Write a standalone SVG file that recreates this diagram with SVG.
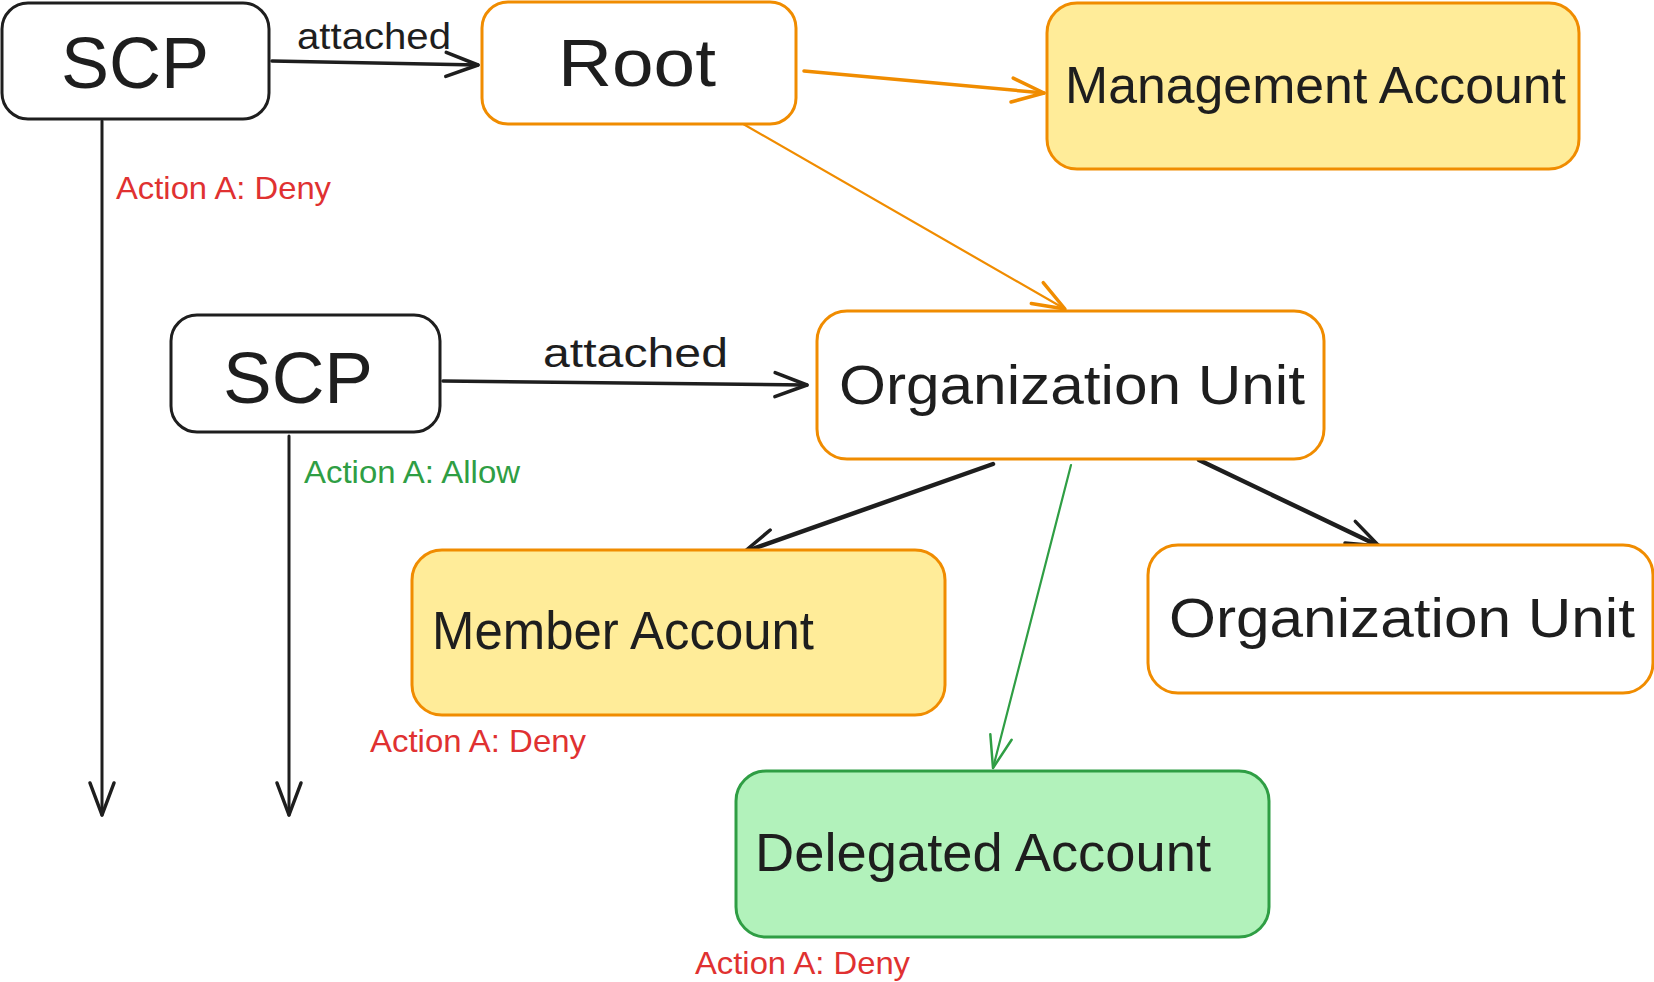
<svg xmlns="http://www.w3.org/2000/svg" width="1654" height="982" viewBox="0 0 1654 982">
<style>
.box{stroke-width:3;stroke-linejoin:round}
.w{fill:#ffffff}
.y{fill:#ffec99}
.g{fill:#b2f2bb}
.bk{stroke:#1e1e1e}
.or{stroke:#f08c00}
.gr{stroke:#2f9e44}
.t{font-family:"Liberation Sans",Arial,sans-serif;fill:#1e1e1e}
.lbl{font-family:"Liberation Sans",Arial,sans-serif;font-size:32px}
.red{fill:#e03131}
.grn{fill:#2f9e44}
.c{fill:none;stroke-linecap:round}
</style>
<defs>
<marker id="ab" markerUnits="userSpaceOnUse" markerWidth="40" markerHeight="40" viewBox="-36 -18 40 36" refX="0" refY="0" orient="auto">
<path d="M-32,-12 L0,0 L-32,12" fill="none" stroke="#1e1e1e" stroke-width="3.5" stroke-linecap="round" stroke-linejoin="round"/>
</marker>
<marker id="ao" markerUnits="userSpaceOnUse" markerWidth="40" markerHeight="40" viewBox="-36 -18 40 36" refX="0" refY="0" orient="auto">
<path d="M-32,-12 L0,0 L-32,12" fill="none" stroke="#f08c00" stroke-width="3.5" stroke-linecap="round" stroke-linejoin="round"/>
</marker>
<marker id="ag" markerUnits="userSpaceOnUse" markerWidth="40" markerHeight="40" viewBox="-36 -18 40 36" refX="0" refY="0" orient="auto">
<path d="M-32,-11 L0,0 L-32,11" fill="none" stroke="#2f9e44" stroke-width="2.5" stroke-linecap="round" stroke-linejoin="round"/>
</marker>
</defs>
<rect width="1654" height="982" fill="#ffffff"/>

<g id="connectors">
<path class="c bk" d="M272,61 L478,65" stroke-width="3.5" marker-end="url(#ab)"/>
<path class="c or" d="M804,71 L1044,93" stroke-width="3.5" marker-end="url(#ao)"/>
<path class="c or" d="M738,121 L1065,309" stroke-width="2.2" marker-end="url(#ao)"/>
<path class="c bk" d="M443,381 L807,385" stroke-width="3.5" marker-end="url(#ab)"/>
<path class="c bk" d="M102,121 L102,815" stroke-width="3" marker-end="url(#ab)"/>
<path class="c bk" d="M289,436 L289,815" stroke-width="3" marker-end="url(#ab)"/>
<path class="c bk" d="M993,464 L744,552" stroke-width="4.5" marker-end="url(#ab)"/>
<path class="c bk" d="M1199,460 L1379,546" stroke-width="4.5" marker-end="url(#ab)"/>
<path class="c gr" d="M1071,465 L993,768" stroke-width="2.2" marker-end="url(#ag)"/>
<text class="t" x="297" y="49" font-size="36" textLength="154" lengthAdjust="spacingAndGlyphs">attached</text>
<text class="t" x="543" y="367" font-size="40" textLength="185" lengthAdjust="spacingAndGlyphs">attached</text>
<text class="lbl red" x="116" y="199" textLength="215" lengthAdjust="spacingAndGlyphs">Action A: Deny</text>
<text class="lbl grn" x="304" y="483" textLength="216" lengthAdjust="spacingAndGlyphs">Action A: Allow</text>
<text class="lbl red" x="370" y="752" textLength="216" lengthAdjust="spacingAndGlyphs">Action A: Deny</text>
<text class="lbl red" x="695" y="974" textLength="215" lengthAdjust="spacingAndGlyphs">Action A: Deny</text>
</g>

<g id="scp1">
<rect class="box w bk" x="2" y="3" width="267" height="116" rx="26"/>
<text class="t" x="135" y="88" font-size="72" text-anchor="middle" textLength="148" lengthAdjust="spacingAndGlyphs">SCP</text>
</g>

<g id="root">
<rect class="box w or" x="482" y="2" width="314" height="122" rx="26"/>
<text class="t" x="637" y="86" font-size="66" text-anchor="middle" textLength="158" lengthAdjust="spacingAndGlyphs">Root</text>
</g>

<g id="management-account">
<rect class="box y or" x="1047" y="3" width="532" height="166" rx="30"/>
<text class="t" x="1065" y="103" font-size="52" textLength="501" lengthAdjust="spacingAndGlyphs">Management Account</text>
</g>

<g id="scp2">
<rect class="box w bk" x="171" y="315" width="269" height="117" rx="26"/>
<text class="t" x="298" y="403" font-size="72" text-anchor="middle" textLength="150" lengthAdjust="spacingAndGlyphs">SCP</text>
</g>

<g id="org-unit-1">
<rect class="box w or" x="817" y="311" width="507" height="148" rx="30"/>
<text class="t" x="839" y="404" font-size="56" textLength="466" lengthAdjust="spacingAndGlyphs">Organization Unit</text>
</g>

<g id="member-account">
<rect class="box y or" x="412" y="550" width="533" height="165" rx="30"/>
<text class="t" x="432" y="649" font-size="54" textLength="382" lengthAdjust="spacingAndGlyphs">Member Account</text>
</g>

<g id="org-unit-2">
<rect class="box w or" x="1148" y="545" width="505" height="148" rx="30"/>
<text class="t" x="1169" y="637" font-size="56" textLength="466" lengthAdjust="spacingAndGlyphs">Organization Unit</text>
</g>

<g id="delegated-account">
<rect class="box g gr" x="736" y="771" width="533" height="166" rx="30"/>
<text class="t" x="755" y="871" font-size="54" textLength="456" lengthAdjust="spacingAndGlyphs">Delegated Account</text>
</g>
</svg>
